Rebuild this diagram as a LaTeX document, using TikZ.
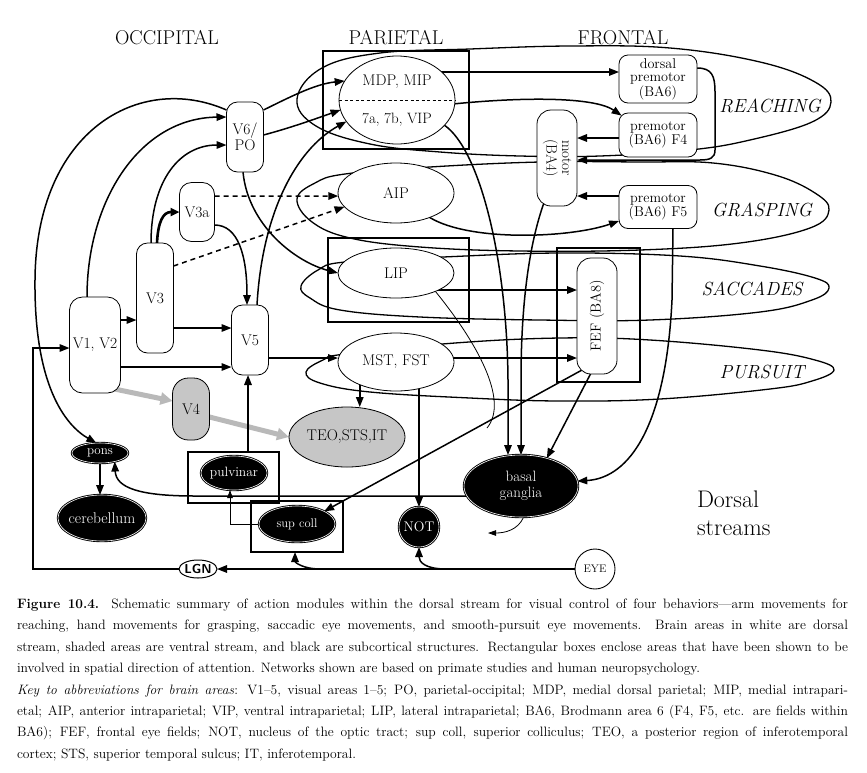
\documentclass[tikz,border=0pt]{standalone}
\usetikzlibrary{arrows.meta,shapes.geometric,calc,backgrounds}
\newcommand{\myfs}[2]{\fontsize{#1}{#2}\selectfont}
\begin{document}
\begin{tikzpicture}[x=1pt,y=-1pt,
  every node/.style={inner sep=0pt,outer sep=0pt},
  rbox/.style={draw,line width=0.8pt,fill=white,rounded corners=11pt,align=center,font=\myfs{15.5}{16.5}},
  oval/.style={ellipse,draw,line width=0.8pt,fill=white,align=center,inner xsep=-8pt,inner ysep=-3pt,font=\myfs{15.5}{16.5}},
  pmbox/.style={rbox,rounded corners=9pt,minimum width=78pt,font=\myfs{14.2}{13.4}},
  ventral/.style={fill=gray!45},
  subc/.style={ellipse,draw=black,double=white,double distance=0.6pt,line width=0.9pt,fill=black,text=white,align=center,inner xsep=-8pt,inner ysep=-3pt},
  attnbox/.style={draw,line width=1.8pt,rectangle},
  lobe/.style={font=\myfs{20}{22}},
  behav/.style={font=\myfs{19}{21}\itshape},
  conn/.style={line width=1.5pt,-{Triangle[length=10pt,width=7.5pt]}},
  thinconn/.style={line width=0.8pt,-{Triangle[length=8pt,width=5.5pt]}},
  thinline/.style={line width=0.8pt},
  loopc/.style={line width=1.3pt},
  dashconn/.style={conn,dash pattern=on 5pt off 4pt},
  grayconn/.style={line width=5pt,gray!55,-{Triangle[length=12pt,width=12pt]}}
]
\useasboundingbox (0,0) rectangle (867,772);
\begin{scope}[on background layer]
\fill[white] (0,0) rectangle (867,772);
\end{scope}

% ---- titles
\node[lobe] (occ) at (167,38) {OCCIPITAL};
\node[lobe] (par) at (396,38) {PARIETAL};
\node[lobe] (fro) at (623,38) {FRONTAL};

% ---- cortical nodes
\node[rbox,minimum width=37pt,minimum height=70pt] (v6) at (245,137) {V6/\\PO};
\node[rbox,minimum width=35pt,minimum height=59pt,rounded corners=12pt] (v3a) at (197,212) {V3a};
\node[rbox,minimum width=37pt,minimum height=110pt] (v3) at (155,298) {V3};
\node[rbox,minimum width=51pt,minimum height=96pt,rounded corners=13pt] (v12) at (95,345) {V1, V2};
\node[rbox,minimum width=37pt,minimum height=70pt] (v5) at (250,340) {V5};
\node[rbox,ventral,minimum width=37pt,minimum height=62pt,rounded corners=16pt] (v4) at (191,409) {V4};
\node[oval,ventral,minimum width=116pt,minimum height=60pt] (teo) at (347,437) {TEO,STS,IT};
\node[oval,minimum width=116pt,minimum height=58pt] (mst) at (396,362) {MST, FST};
\node[oval,minimum width=116pt,minimum height=50pt] (lip) at (396,273) {LIP};
\node[oval,minimum width=116pt,minimum height=60pt] (aip) at (396,193) {AIP};
\node[oval,minimum width=116pt,minimum height=88pt] (mdp) at (397,100) {};
\draw[line width=0.6pt,dash pattern=on 3pt off 2.5pt] (mdp.west) -- (mdp.east);
\node[font=\myfs{15.5}{16.5}] (mdptxt) at (397,82) {MDP, MIP};
\node[font=\myfs{15}{16}] (viptxt) at (397,120) {7a, 7b, VIP};
\node[rbox,minimum width=40pt,minimum height=96pt,rounded corners=14pt] (motor) at (557,158) {};
\node[rotate=-90,align=center,font=\myfs{15}{15.5}] (motortxt) at (motor.center) {motor\\(BA4)};
\node[rbox,minimum width=40pt,minimum height=116pt,rounded corners=14pt] (fef) at (597,316) {};
\node[rotate=90,font=\myfs{14.5}{15}] (feftxt) at (fef.center) {FEF (BA8)};
\node[pmbox,minimum height=48pt] (dpm) at (658,79) {dorsal\\premotor\\(BA6)};
\node[pmbox,minimum height=44pt] (f4) at (658,135) {premotor\\(BA6) F4};
\node[pmbox,minimum height=43pt] (f5) at (658,207) {premotor\\(BA6) F5};

% ---- behaviour labels
\node[behav] (reach) at (770,106) {REACHING};
\node[behav] (grasp) at (762,210) {GRASPING};
\node[behav] (sacc) at (752,289) {SACCADES};
\node[behav] (purs) at (762,372) {PURSUIT};

% ---- attention boxes
\node[attnbox,minimum width=146pt,minimum height=98pt] (parbox) at (396,100) {};
\node[attnbox,minimum width=141pt,minimum height=84pt] (lipbox) at (398.5,280) {};
\node[attnbox,minimum width=83pt,minimum height=134pt] (fefbox) at (598.5,315) {};
\node[attnbox,minimum width=91pt,minimum height=51pt] (pulvbox) at (233.5,477.5) {};
\node[attnbox,minimum width=92pt,minimum height=51pt] (scbox) at (297,526.5) {};

% ---- subcortical
\node[subc,minimum width=56pt,minimum height=20pt,font=\myfs{13}{13}] (pons) at (100,453) {pons};
\node[subc,minimum width=88pt,minimum height=46pt,font=\myfs{15.5}{16}] (cereb) at (102,518) {cerebellum};
\node[subc,minimum width=66pt,minimum height=34pt,font=\myfs{13.5}{14}] (pulv) at (234,473) {pulvinar};
\node[subc,minimum width=76pt,minimum height=36pt,font=\myfs{12.5}{13}] (sc) at (297,524) {sup coll};
\node[subc,circle,minimum size=40pt,font=\myfs{14}{14}] (not) at (419,527) {NOT};
\node[subc,minimum width=114pt,minimum height=62pt,font=\myfs{15}{16}] (bg) at (521,486) {basal\\ganglia};
\node[ellipse,draw,line width=1pt,fill=white,minimum width=38pt,minimum height=18pt,inner xsep=-6pt,font=\sffamily\bfseries\myfs{13}{13}] (lgn) at (198,569) {LGN};
\node[circle,draw,line width=0.9pt,fill=white,minimum size=40pt,font=\myfs{11}{11}] (eye) at (595,569) {EYE};
\node[font=\myfs{24}{28},align=left,anchor=north west] (ds) at (697,491) {Dorsal\\streams};

\coordinate (lipend) at (487,428);
\coordinate (bgout) at (488,533);

% ---- background: loops and connectors
\begin{scope}[on background layer]
\draw[loopc] plot[smooth cycle,tension=0.65] coordinates {(297,99) (322,68) (380,53) (470,49) (570,46) (670,48) (760,62) (815,82) (831,102) (812,122) (750,140) (690,150) (600,156) (520,156) (440,152) (370,144) (316,126)};
\draw[loopc] plot[smooth cycle,tension=0.65] coordinates {(297,199) (315,183) (345,174) (430,167) (540,162) (640,162) (713,163) (775,175) (815,193) (829,210) (810,228) (740,243) (640,250) (520,251) (420,247) (350,238) (312,222)};
\draw[loopc] plot[smooth cycle,tension=0.65] coordinates {(301,286) (318,270) (345,262) (443,257) (560,253) (680,256) (760,266) (815,278) (829,288) (812,300) (760,312) (650,320) (540,320) (420,317) (340,310) (310,298)};
\draw[loopc] plot[smooth cycle,tension=0.65] coordinates {(306,372) (323,360) (345,354) (455,343) (560,338) (650,340) (760,350) (815,360) (834,370) (812,381) (770,389) (660,399) (560,401) (470,398) (370,392) (320,383)};

% occipital connections
\draw[conn] (v6.west |- 0,110) .. controls (140,72) and (36,130) .. (35,280) .. controls (34,385) and (65,425) .. (pons.110);
\draw[conn] (87,0 |- v12.north) .. controls (87,200) and (140,118) .. (v6.west |- 0,117);
\draw[conn] (151,0 |- v3.north) .. controls (151,180) and (180,145) .. (v6.west |- 0,145);
\draw[line width=2.6pt,-{Triangle[length=9pt,width=8pt]}] (157,0 |- v3.north) .. controls (158,222) and (163,212) .. (v3a.west);
\draw[dashconn] (v3a.east |- 0,196) -- (aip.183);
\draw[dashconn] (v3.east |- 0,266) -- (aip.195);
\draw[conn] (v3a.east |- 0,225) .. controls (238,225) and (247,255) .. (247,0 |- v5.north);
\draw[conn] (257,0 |- v5.north) .. controls (262,215) and (295,150) .. (mdp.203);
\draw[conn] (v6.east |- 0,110) .. controls (290,97) and (315,84) .. (mdp.160);
\draw[conn] (v6.east |- 0,135) .. controls (290,128) and (315,119) .. (mdp.190);
\draw[conn] (243,0 |- v6.south) .. controls (248,225) and (295,262) .. (lip.west);
\draw[conn] (v12.east |- 0,320) -- (v3.west |- 0,320);
\draw[conn] (v3.east |- 0,328) -- (v5.west |- 0,328);
\draw[conn] (v12.east |- 0,367) -- (v5.west |- 0,367);
\draw[conn] (v5.east |- 0,358) -- (mst.west |- 0,358);
\draw[grayconn] ($(v12.south east)+(-6,-4)$) -- (v4.west |- 0,401);
\draw[grayconn] (v4.east |- 0,417) -- (teo.west);
\draw[conn] (pulvbox.north -| 248,0) -- (248,0 |- v5.south);

% parietal / temporal
\draw[conn] (mst.212) -- (mst.212 |- teo.north);
\draw[conn] (mst.center -| not.north) -- (not.north);
\draw[conn] (mst.center |- 0,358) -- (fef.west |- 0,358);
\draw[conn] (lip.center |- 0,290) -- (fef.west |- 0,290);
\draw[thinline] (lip.-25) .. controls (475,340) and (510,400) .. (lipend);
\draw[conn] (mdp.332) .. controls (480,150) and (507,260) .. (508,380) -- (bg.north -| 508,0);
\draw[conn] ($(motor.south)+(-12,-6)$) .. controls (530,240) and (521,300) .. (521,380) -- (bg.north -| 521,0);
\draw[conn] ($(fef.south)+(-6,-1)$) -- (bg.47);
\draw[conn] ($(fef.south west)+(5,-4)$) -- (sc.25);
\draw[conn] (673,0 |- f5.south) -- (672,300) .. controls (666,425) and (630,478) .. (bg.5);

% subcortical
\draw[conn] (bg.center |- 0,496) -- (195,496) .. controls (140,496) and (116,488) .. (pons.-30);
\draw[conn] (pons.south) -- (pons.south |- cereb.north);
\draw[thinconn] (sc.west) -| (pulv.south -| 230,0);
\draw[thinconn] (bg.-85) .. controls (518,530) and (505,533) .. (bgout);
\draw[conn] (eye.west) -- (lgn.east);
\draw[conn] ($(lgn.east)!0.29!(eye.west)$) .. controls (302,569) and (295,562) .. (295,0 |- scbox.south);
\draw[conn] ($(lgn.east)!0.64!(eye.west)$) .. controls (425,569) and (419,562) .. (not.south);
\draw[conn] (lgn.west) -| (33,348) -- (v12.west |- 0,348);

% frontal
\draw[conn] (mdp.center |- 0,72) -- (dpm.west |- 0,72);
\draw[conn] (mdp.center |- 0,111) .. controls (490,97) and (590,94) .. ($(f4.north west)+(2.6,2.6)$);
\draw[conn] (dpm.east |- 0,68) .. controls (712,68) and (715,76) .. (715,92) -- (715,150) .. controls (715,158) and (710,160) .. (700,160) -- (motor.east |- 0,160);
\draw[conn] (f4.west |- 0,138) -- (motor.east |- 0,138);
\draw[conn] (f5.west |- 0,196) -- (motor.east |- 0,196);
\draw[conn] (aip.324) .. controls (470,242) and (570,238) .. (f5.west |- 0,221);
\end{scope}

% ---- caption
\node[anchor=north west,text width=831pt,align=justify,font=\myfs{13.6}{21.4}] (cap) at (17,599) {\parindent=0pt
\textbf{Figure 10.4.} Schematic summary of action modules within the dorsal stream for visual control of four behaviors---arm movements for\linebreak
reaching, hand movements for grasping, saccadic eye movements, and smooth-pursuit eye movements. Brain areas in white are dorsal\linebreak
stream, shaded areas are ventral stream, and black are subcortical structures. Rectangular boxes enclose areas that have been shown to be\linebreak
involved in spatial direction of attention. Networks shown are based on primate studies and human neuropsychology.\par
\textit{Key to abbreviations for brain areas}: V1--5, visual areas 1--5; PO, parietal-occipital; MDP, medial dorsal parietal; MIP, medial intrapari-\linebreak
etal; AIP, anterior intraparietal; VIP, ventral intraparietal; LIP, lateral intraparietal; BA6, Brodmann area 6 (F4, F5, etc. are fields within\linebreak
BA6); FEF, frontal eye fields; NOT, nucleus of the optic tract; sup coll, superior colliculus; TEO, a posterior region of inferotemporal\linebreak
cortex; STS, superior temporal sulcus; IT, inferotemporal.};
\end{tikzpicture}
\end{document}
